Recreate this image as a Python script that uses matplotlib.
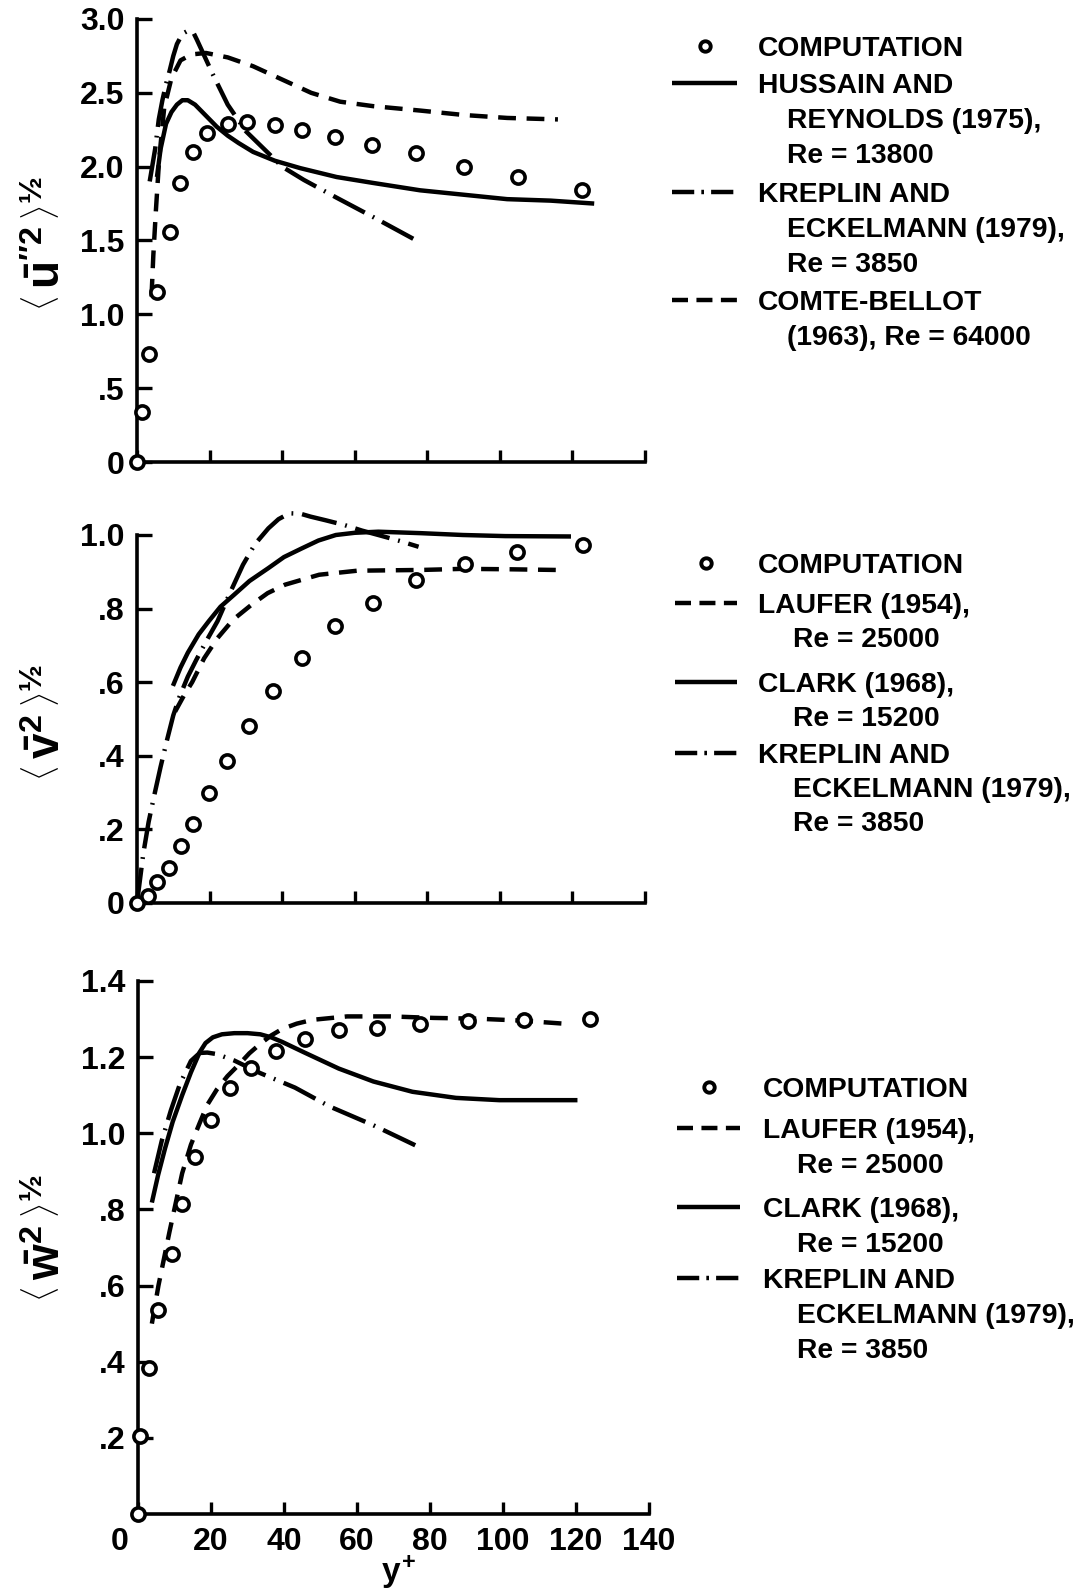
import numpy as np
import matplotlib.pyplot as plt
from matplotlib.transforms import ScaledTranslation

plt.rcParams['font.family'] = ['Liberation Sans', 'DejaVu Sans']
plt.rcParams['font.weight'] = 'bold'
plt.rcParams['mathtext.fontset'] = 'custom'
plt.rcParams['mathtext.rm'] = 'Liberation Sans:bold'
plt.rcParams['mathtext.it'] = 'Liberation Sans:bold'
plt.rcParams['mathtext.bf'] = 'Liberation Sans:bold'

# ---------------- data: panel 1, u'' ----------------
u_comp_x = [0, 1.5, 3.2, 5.6, 9.0, 11.9, 15.4, 19.4, 25.1, 30.2, 37.9, 45.6, 54.6, 64.7, 77.0, 90.1, 105.0, 122.5]
u_comp_y = [0, 0.34, 0.73, 1.15, 1.56, 1.89, 2.10, 2.23, 2.29, 2.30, 2.28, 2.25, 2.20, 2.15, 2.09, 2.00, 1.93, 1.84]
u_hussain_x = [5.5, 6.5, 8, 9.5, 11, 12.5, 14, 16, 18, 20, 22, 25, 28, 32, 38, 45, 55, 65, 78, 90, 102, 114, 126]
u_hussain_y = [1.93, 2.12, 2.29, 2.37, 2.42, 2.45, 2.45, 2.42, 2.37, 2.32, 2.27, 2.21, 2.16, 2.10, 2.04, 1.99, 1.93, 1.89, 1.84, 1.81, 1.78, 1.77, 1.75]
u_kreplin_x = [3.5, 5, 6, 7, 8, 9, 10, 11, 12.5, 14, 15.5, 16.5, 18, 21, 25, 30, 35, 40, 46, 55, 65, 77]
u_kreplin_y = [1.90, 2.12, 2.32, 2.45, 2.56, 2.65, 2.75, 2.83, 2.90, 2.92, 2.91, 2.86, 2.78, 2.62, 2.42, 2.24, 2.12, 2.00, 1.91, 1.79, 1.66, 1.50]
u_comte_x = [4.0, 4.5, 5.2, 6.1, 7.5, 9.5, 12, 15, 19, 25, 32, 40, 48, 56, 65, 78, 90, 102, 116]
u_comte_y = [1.12, 1.40, 1.70, 2.05, 2.40, 2.60, 2.72, 2.76, 2.77, 2.74, 2.68, 2.59, 2.50, 2.44, 2.41, 2.38, 2.35, 2.33, 2.32]

# ---------------- data: panel 2, v ----------------
v_comp_x = [0, 2.9, 5.6, 8.75, 12.0, 15.4, 19.8, 24.9, 30.9, 37.6, 45.5, 54.6, 65.1, 77.0, 90.4, 104.8, 123.0]
v_comp_y = [0, 0.02, 0.056, 0.095, 0.156, 0.216, 0.30, 0.387, 0.482, 0.577, 0.667, 0.752, 0.815, 0.877, 0.92, 0.955, 0.973]
v_laufer_x = [10.5, 13, 15.2, 18.5, 22.2, 26.5, 31.5, 36, 40.8, 50.2, 60.7, 78.2, 89.8, 101.5, 115.5]
v_laufer_y = [0.52, 0.565, 0.60, 0.665, 0.72, 0.77, 0.81, 0.842, 0.865, 0.892, 0.903, 0.905, 0.908, 0.907, 0.905]
v_clark_x = [9.9, 12, 14, 17, 19.8, 23, 26.8, 31, 36.2, 40.5, 45.5, 50, 54.8, 60, 66.5, 78.2, 89.8, 101.5, 119.6]
v_clark_y = [0.59, 0.64, 0.68, 0.73, 0.766, 0.805, 0.838, 0.875, 0.91, 0.94, 0.964, 0.985, 1.0, 1.006, 1.009, 1.005, 1.0, 0.997, 0.996]
v_kreplin_x = [0, 1.75, 3.2, 4.7, 6.5, 8.2, 10, 11.7, 14, 16.3, 19, 22.2, 25.5, 29.2, 32.5, 36.2, 39, 42, 45, 47.8, 52, 57.2, 62, 66.5, 72, 77.6]
v_kreplin_y = [0, 0.135, 0.22, 0.29, 0.37, 0.44, 0.51, 0.56, 0.615, 0.66, 0.71, 0.766, 0.84, 0.919, 0.975, 1.018, 1.043, 1.059, 1.058, 1.05, 1.04, 1.027, 1.012, 1.0, 0.985, 0.968]

# ---------------- data: panel 3, w ----------------
w_comp_x = [0, 0.5, 3.0, 5.6, 9.2, 12.1, 15.7, 20.1, 25.2, 30.9, 37.9, 45.8, 55.0, 65.4, 77.2, 90.3, 105.7, 123.9]
w_comp_y = [0, 0.206, 0.384, 0.536, 0.684, 0.815, 0.937, 1.035, 1.12, 1.172, 1.216, 1.248, 1.270, 1.276, 1.287, 1.295, 1.298, 1.299]
w_laufer_x = [3.8, 5.6, 8.6, 12.1, 14.5, 16.9, 19, 21.6, 24.5, 27.6, 30.5, 33.5, 36.5, 39.5, 43.5, 47.8, 57.3, 69.2, 81.1, 93, 104.9, 118]
w_laufer_y = [0.50, 0.60, 0.74, 0.895, 0.97, 1.027, 1.075, 1.115, 1.15, 1.18, 1.21, 1.235, 1.257, 1.274, 1.288, 1.298, 1.307, 1.307, 1.303, 1.301, 1.296, 1.287]
w_clark_x = [3.8, 5.5, 7.4, 9.5, 12.1, 14.5, 16.9, 18.5, 20.5, 23, 26.4, 30, 33.5, 36.5, 39.5, 45.4, 55, 64.5, 75.2, 87.1, 99, 120.4]
w_clark_y = [0.818, 0.89, 0.96, 1.03, 1.10, 1.16, 1.213, 1.237, 1.252, 1.26, 1.263, 1.263, 1.26, 1.252, 1.24, 1.213, 1.17, 1.136, 1.109, 1.093, 1.087, 1.087]
w_kreplin_x = [4.4, 6.5, 9, 11.5, 14.5, 16.9, 19, 21.6, 26.4, 33.5, 43, 52.6, 64.5, 77.6]
w_kreplin_y = [0.895, 0.98, 1.06, 1.13, 1.19, 1.211, 1.212, 1.208, 1.191, 1.158, 1.12, 1.07, 1.021, 0.961]

x_ticks = [0, 20, 40, 60, 80, 100, 120, 140]
x_tick_labels = ['0', '20', '40', '60', '80', '100', '120', '140']
u_ticks = [0, 0.5, 1.0, 1.5, 2.0, 2.5, 3.0]
u_tick_labels = ['0', '.5', '1.0', '1.5', '2.0', '2.5', '3.0']
v_ticks = [0, 0.2, 0.4, 0.6, 0.8, 1.0]
v_tick_labels = ['0', '.2', '.4', '.6', '.8', '1.0']
w_ticks = [0.2, 0.4, 0.6, 0.8, 1.0, 1.2, 1.4]
w_tick_labels = ['.2', '.4', '.6', '.8', '1.0', '1.2', '1.4']

legend1 = [('o', ['COMPUTATION']),
           ('-', ['HUSSAIN AND', 'REYNOLDS (1975),', 'Re = 13800']),
           ('-.', ['KREPLIN AND', 'ECKELMANN (1979),', 'Re = 3850']),
           ('--', ['COMTE-BELLOT', '(1963), Re = 64000'])]
legend23 = [('o', ['COMPUTATION']),
            ('--', ['LAUFER (1954),', 'Re = 25000']),
            ('-', ['CLARK (1968),', 'Re = 15200']),
            ('-.', ['KREPLIN AND', 'ECKELMANN (1979),', 'Re = 3850'])]

# ---------------- styles ----------------
LW = 3.2
STYLES = {'-': (0, ()), '--': (0, (4.0, 2.4)), '-.': (0, (8, 2.0, 0.4, 2.0))}
LEG_STYLES = {'-': (0, ()), '--': (0, (3.6, 1.9)), '-.': (0, (5.0, 1.6, 0.6, 1.6))}
FS = 23

fig = plt.figure(figsize=(10.82, 15.94), dpi=100)
W, H = 1082, 1594


def px_axes(l, r, t, b):
    return fig.add_axes([l / W, 1 - b / H, (r - l) / W, (b - t) / H])


def style_axis(ax, yt, ytl, ymax, show_x):
    ax.set_xlim(0, 140)
    ax.set_ylim(0, ymax)
    for s in ['top', 'right']:
        ax.spines[s].set_visible(False)
    for s in ['left', 'bottom']:
        ax.spines[s].set_linewidth(2.6)
    ax.set_xticks(x_ticks)
    ax.set_xticklabels(x_tick_labels if show_x else [])
    ax.set_yticks(yt)
    ax.set_yticklabels(ytl)
    ax.tick_params(axis='y', direction='in', length=11, width=2.4, pad=9, labelsize=FS)
    ax.tick_params(axis='x', direction='in', length=9, width=2.4, pad=9, labelsize=FS)


def comp(ax, x, y):
    ax.plot(x, y, 'o', ms=9.5, mfc='white', mec='black', mew=2.6, clip_on=False, zorder=5)


def curve(ax, x, y, kind):
    ax.plot(x, y, color='black', lw=LW, linestyle=STYLES[kind], solid_capstyle='butt',
            dash_capstyle='butt', solid_joinstyle='round', clip_on=False, zorder=3)


# panel 1
ax1 = px_axes(137, 645, 19, 462)
style_axis(ax1, u_ticks, u_tick_labels, 3.0, False)
curve(ax1, u_hussain_x, u_hussain_y, '-')
curve(ax1, u_kreplin_x, u_kreplin_y, '-.')
curve(ax1, u_comte_x, u_comte_y, '--')
comp(ax1, u_comp_x, u_comp_y)

# panel 2
ax2 = px_axes(137, 645, 535, 903)
style_axis(ax2, v_ticks, v_tick_labels, 1.0, False)
curve(ax2, v_laufer_x, v_laufer_y, '--')
curve(ax2, v_clark_x, v_clark_y, '-')
curve(ax2, v_kreplin_x, v_kreplin_y, '-.')
comp(ax2, v_comp_x, v_comp_y)

# panel 3
ax3 = px_axes(138, 649, 981, 1514)
style_axis(ax3, w_ticks, w_tick_labels, 1.4, True)
curve(ax3, w_laufer_x, w_laufer_y, '--')
curve(ax3, w_clark_x, w_clark_y, '-')
curve(ax3, w_kreplin_x, w_kreplin_y, '-.')
comp(ax3, w_comp_x, w_comp_y)
lbl0 = ax3.get_xticklabels()[0]
lbl0.set_transform(lbl0.get_transform() + ScaledTranslation(-0.18, 0, fig.dpi_scale_trans))

# x label
fig.text(398 / W, 1 - 1572 / H, r'$y^{+}$', ha='center', va='center', fontsize=FS + 1)

# y labels
ylabels = [r'$\left\langle\,\bar{u}^{\prime\prime 2}\,\right\rangle^{½}$',
           r'$\left\langle\,\bar{v}^{2}\,\right\rangle^{½}$',
           r'$\left\langle\,\bar{w}^{2}\,\right\rangle^{½}$']
for lab, yc in zip(ylabels, [243, 722, 1238]):
    fig.text(48 / W, 1 - yc / H, lab, rotation=90, ha='center', va='center', fontsize=33)

# legends drawn in pixel space
lax = fig.add_axes([0, 0, 1, 1], zorder=-1)
lax.set_xlim(0, W)
lax.set_ylim(H, 0)
lax.axis('off')


def draw_legend(items, rows, sym_x, text_x, indent_x, line_h):
    for (kind, lines), y0 in zip(items, rows):
        if kind == 'o':
            lax.plot([sum(sym_x) / 2], [y0], 'o', ms=7.5, mfc='white', mec='black', mew=2.8)
        else:
            lax.plot(sym_x, [y0, y0], color='black', lw=LW, linestyle=LEG_STYLES[kind],
                     solid_capstyle='butt', dash_capstyle='butt')
        for i, t in enumerate(lines):
            x = text_x if i == 0 else indent_x
            lax.text(x, y0 + i * line_h + 10, t, fontsize=20.3, fontweight='bold',
                     ha='left', va='baseline')


draw_legend(legend1, [46, 83, 192, 300], (672, 737), 758, 787, 35)
draw_legend(legend23, [563, 603, 682, 753], (675, 737), 758, 793, 34)
draw_legend(legend23, [1087, 1128, 1207, 1278], (677, 740), 763, 797, 35)

fig.savefig('out.png', dpi=100)
